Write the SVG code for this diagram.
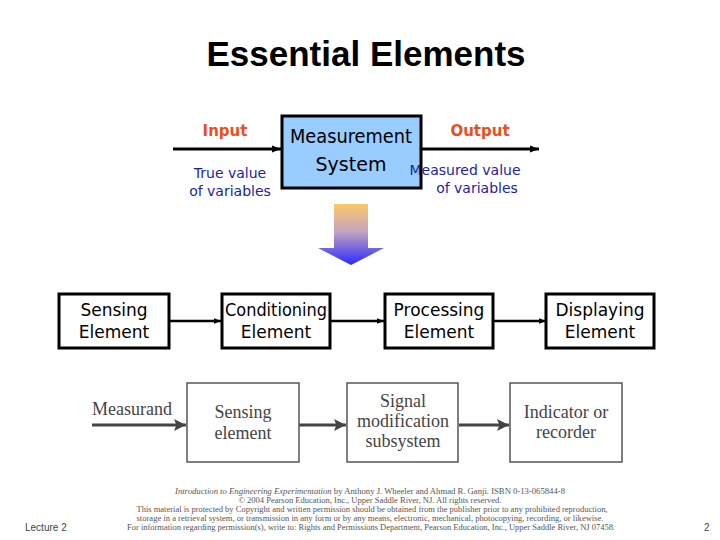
<svg xmlns="http://www.w3.org/2000/svg" width="720" height="540" viewBox="0 0 720 540">
<defs>
<style>
.comic{font-family:"DejaVu Sans","Liberation Sans",sans-serif;}
.box{fill:#fff;stroke:#000;stroke-width:3;}
.ms{fill:#99ccff;stroke:#000;stroke-width:3;}
.red{fill:#e8501e;font-weight:bold;font-size:15px;}
.blue{fill:#1e1e9e;font-size:14px;}
.lbl{fill:#000;font-size:17px;}
.serif{font-family:"Liberation Serif","Times New Roman",serif;fill:#444;font-size:18px;}
.rbox{fill:#fff;stroke:#555;stroke-width:1.5;}
.wire{stroke:#000;stroke-width:3;fill:none;}
.thin{stroke:#000;stroke-width:2.5;fill:none;}
.gwire{stroke:#444;stroke-width:3;fill:none;}
.note{font-family:"Liberation Serif",serif;fill:#555;font-size:8.5px;}
</style>
<marker id="ah" viewBox="0 0 10 10" refX="10" refY="5" markerWidth="3" markerHeight="3" orient="auto" markerUnits="strokeWidth"><path d="M0,1 L10,5 L0,9 z" fill="#000"/></marker>
<marker id="gah" viewBox="0 0 10 10" refX="10" refY="5" markerWidth="5" markerHeight="4" orient="auto" markerUnits="strokeWidth"><path d="M0,0 L10,5 L0,10 L2,5 z" fill="#444"/></marker>
<linearGradient id="grad" x1="0" y1="0" x2="0" y2="1">
<stop offset="0" stop-color="#fdc96a"/>
<stop offset="0.45" stop-color="#c4a4c0"/>
<stop offset="1" stop-color="#2a2aff"/>
</linearGradient>
</defs>
<rect width="720" height="540" fill="#fff"/>

<text x="366" y="66" text-anchor="middle" font-family="Liberation Sans,Arial,sans-serif" font-weight="bold" font-size="35" fill="#000">Essential Elements</text>

<g id="connectors">
<line class="wire" x1="173" y1="149" x2="281" y2="149" marker-end="url(#ah)"/>
<line class="wire" x1="421" y1="149" x2="539" y2="149" marker-end="url(#ah)"/>
<line class="thin" x1="170" y1="321" x2="221" y2="321" marker-end="url(#ah)"/>
<line class="thin" x1="331" y1="321" x2="384" y2="321" marker-end="url(#ah)"/>
<line class="thin" x1="494" y1="321" x2="546" y2="321" marker-end="url(#ah)"/>
<line class="gwire" x1="92" y1="425" x2="186" y2="425" marker-end="url(#gah)"/>
<line class="gwire" x1="299" y1="425" x2="346" y2="425" marker-end="url(#gah)"/>
<line class="gwire" x1="459" y1="425" x2="509" y2="425" marker-end="url(#gah)"/>
</g>

<g id="input-label" class="comic">
<text class="red" x="225" y="136" text-anchor="middle">Input</text>
<text class="blue" x="230" y="178" text-anchor="middle">True value</text>
<text class="blue" x="230" y="196" text-anchor="middle">of variables</text>
</g>

<g id="measurement-system">
<rect class="ms" x="282" y="116" width="139" height="72"/>
<text class="comic" x="351" y="143" text-anchor="middle" font-size="19" textLength="122" lengthAdjust="spacingAndGlyphs">Measurement</text>
<text class="comic" x="351" y="171" text-anchor="middle" font-size="19">System</text>
</g>

<g id="output-label" class="comic">
<text class="red" x="480" y="136" text-anchor="middle">Output</text>
<text class="blue" x="465" y="175" text-anchor="middle">Measured value</text>
<text class="blue" x="477" y="193" text-anchor="middle">of variables</text>
</g>

<g id="down-arrow">
<path d="M334,204 L368,204 L368,248 L384,248 L351,265 L318,248 L334,248 Z" fill="url(#grad)"/>
</g>

<g id="sensing-element" class="comic">
<rect class="box" x="59" y="294" width="110" height="54"/>
<text class="lbl" x="114" y="316" text-anchor="middle">Sensing</text>
<text class="lbl" x="114" y="338" text-anchor="middle">Element</text>
</g>
<g id="conditioning-element" class="comic">
<rect class="box" x="222" y="294" width="108" height="54"/>
<text class="lbl" x="276" y="316" text-anchor="middle" textLength="102" lengthAdjust="spacingAndGlyphs">Conditioning</text>
<text class="lbl" x="276" y="338" text-anchor="middle">Element</text>
</g>
<g id="processing-element" class="comic">
<rect class="box" x="385" y="294" width="108" height="54"/>
<text class="lbl" x="439" y="316" text-anchor="middle">Processing</text>
<text class="lbl" x="439" y="338" text-anchor="middle">Element</text>
</g>
<g id="displaying-element" class="comic">
<rect class="box" x="546" y="294" width="108" height="54"/>
<text class="lbl" x="600" y="316" text-anchor="middle">Displaying</text>
<text class="lbl" x="600" y="338" text-anchor="middle">Element</text>
</g>

<g id="measurand">
<text class="serif" x="92" y="415">Measurand</text>
</g>
<g id="sensing-block">
<rect class="rbox" x="187" y="383" width="112" height="79"/>
<text class="serif" x="243" y="418" text-anchor="middle">Sensing</text>
<text class="serif" x="243" y="439" text-anchor="middle">element</text>
</g>
<g id="signal-block">
<rect class="rbox" x="347" y="383" width="111" height="79"/>
<text class="serif" x="403" y="407" text-anchor="middle">Signal</text>
<text class="serif" x="403" y="427" text-anchor="middle">modification</text>
<text class="serif" x="403" y="447" text-anchor="middle">subsystem</text>
</g>
<g id="indicator-block">
<rect class="rbox" x="510" y="383" width="112" height="79"/>
<text class="serif" x="566" y="418" text-anchor="middle">Indicator or</text>
<text class="serif" x="566" y="438" text-anchor="middle">recorder</text>
</g>

<g id="credits" text-anchor="middle">
<text class="note" x="370" y="494" textLength="390" lengthAdjust="spacingAndGlyphs"><tspan font-style="italic">Introduction to Engineering Experimentation</tspan> by Anthony J. Wheeler and Ahmad R. Ganji. ISBN 0-13-065844-8</text>
<text class="note" x="370" y="503" textLength="263" lengthAdjust="spacingAndGlyphs">© 2004 Pearson Education, Inc., Upper Saddle River, NJ.  All rights reserved.</text>
<text class="note" x="372" y="512" textLength="471" lengthAdjust="spacingAndGlyphs">This material is protected by Copyright and written permission should be obtained from the publisher prior to any prohibited reproduction,</text>
<text class="note" x="370" y="521" textLength="467" lengthAdjust="spacingAndGlyphs">storage in a retrieval system, or transmission in any form or by any means, electronic, mechanical, photocopying, recording, or likewise.</text>
<text class="note" x="371" y="530" textLength="488" lengthAdjust="spacingAndGlyphs">For information regarding permission(s), write to: Rights and Permissions Department, Pearson Education, Inc., Upper Saddle River, NJ 07458.</text>
</g>

<text x="25" y="531" font-family="Liberation Sans,Arial,sans-serif" font-size="10" fill="#444">Lecture 2</text>
<text x="704" y="531" font-family="Liberation Sans,Arial,sans-serif" font-size="10" fill="#444">2</text>
</svg>
